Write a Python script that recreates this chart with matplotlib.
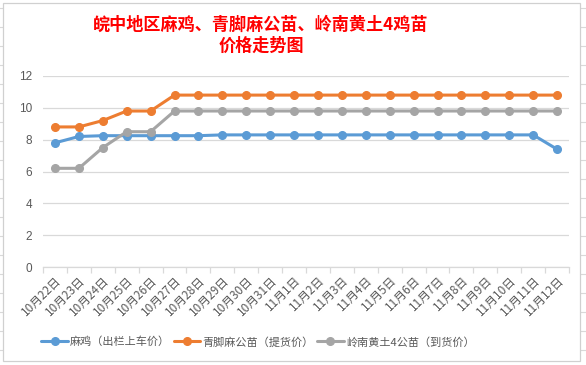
import matplotlib
matplotlib.use("Agg")
import matplotlib.pyplot as plt
from matplotlib.patches import Rectangle
from matplotlib.lines import Line2D

plt.rcParams['font.family'] = ['Noto Sans CJK SC', 'DejaVu Sans']

dates = ["10月22日", "10月23日", "10月24日", "10月25日", "10月26日", "10月27日",
         "10月28日", "10月29日", "10月30日", "10月31日", "11月1日", "11月2日",
         "11月3日", "11月4日", "11月5日", "11月6日", "11月7日", "11月8日",
         "11月9日", "11月10日", "11月11日", "11月12日"]
maji = [7.8, 8.2, 8.25, 8.25, 8.25, 8.25, 8.25, 8.3, 8.3, 8.3, 8.3, 8.3,
        8.3, 8.3, 8.3, 8.3, 8.3, 8.3, 8.3, 8.3, 8.3, 7.4]
qingjiao = [8.8, 8.8, 9.2, 9.8, 9.8, 10.8, 10.8, 10.8, 10.8, 10.8, 10.8, 10.8,
            10.8, 10.8, 10.8, 10.8, 10.8, 10.8, 10.8, 10.8, 10.8, 10.8]
lingnan = [6.2, 6.2, 7.5, 8.5, 8.5, 9.8, 9.8, 9.8, 9.8, 9.8, 9.8, 9.8,
           9.8, 9.8, 9.8, 9.8, 9.8, 9.8, 9.8, 9.8, 9.8, 9.8]
series_names = ["麻鸡（出栏上车价）", "青脚麻公苗（提货价）", "岭南黄土4公苗（到货价）"]
colors = ["#5B9BD5", "#ED7D31", "#A5A5A5"]
yticks = [0, 2, 4, 6, 8, 10, 12]
title = "皖中地区麻鸡、青脚麻公苗、岭南黄土4鸡苗\n价格走势图"

W, H = 586, 365
fig = plt.figure(figsize=(W / 100, H / 100), dpi=100)
fig.patch.set_facecolor("white")

# spreadsheet gridlines in the margins
for yy in range(8, H, 19):
    fig.add_artist(Line2D([0, 3 / W], [1 - yy / H] * 2, color="#d9d9d9", lw=0.8, zorder=-2))
    fig.add_artist(Line2D([580 / W, 1], [1 - yy / H] * 2, color="#d9d9d9", lw=0.8, zorder=-2))
# chart border
fig.add_artist(Rectangle((3 / W, 4 / H), 577 / W, 358 / H, transform=fig.transFigure,
                         fill=True, facecolor="white", edgecolor="#d0d0d0", lw=0.9,
                         zorder=-1))

ax = fig.add_axes([43 / W, 1 - 267 / H, 526 / W, 191 / H])
ax.set_facecolor("none")
x = list(range(len(dates)))
for vals, name, c in zip([maji, qingjiao, lingnan], series_names, colors):
    ax.plot(x, vals, color=c, lw=2.2, marker="o", ms=5.5, label=name,
            solid_capstyle="round", zorder=3)

ax.set_xlim(-0.5, len(dates) - 0.5)
ax.set_ylim(0, 12)
ax.set_yticks(yticks)
ax.set_yticklabels([str(v) for v in yticks], fontsize=8.5, color="#595959",
                   family=["Liberation Sans", "DejaVu Sans"])
ax.grid(axis="y", color="#d9d9d9", lw=0.9)
ax.set_axisbelow(True)
for s in ["top", "right", "left"]:
    ax.spines[s].set_visible(False)
ax.spines["bottom"].set_color("#d9d9d9")
ax.spines["bottom"].set_linewidth(0.9)
ax.tick_params(axis="y", length=0, pad=8)
ax.set_xticks(x)
ax.set_xticklabels(dates, rotation=45, ha="right", va="top", rotation_mode="anchor",
                   fontsize=8.5, color="#595959")
ax.tick_params(axis="x", length=0, pad=5)
ax.set_xticks([i - 0.5 for i in range(len(dates) + 1)], minor=True)
ax.tick_params(axis="x", which="minor", length=4, color="#d9d9d9", width=0.9)

fig.text(261 / W, 1 - 35 / H, title, ha="center", va="center", fontsize=12.3,
         color="#FF0000", fontweight="bold", linespacing=1.2)

fig.legend(loc="center", bbox_to_anchor=(258 / W, 1 - 342 / H), ncol=3, frameon=False,
           fontsize=8.0, handlelength=2.4, columnspacing=0.3, handletextpad=0.2,
           labelcolor="#595959")

fig.savefig("out.png", dpi=100)
